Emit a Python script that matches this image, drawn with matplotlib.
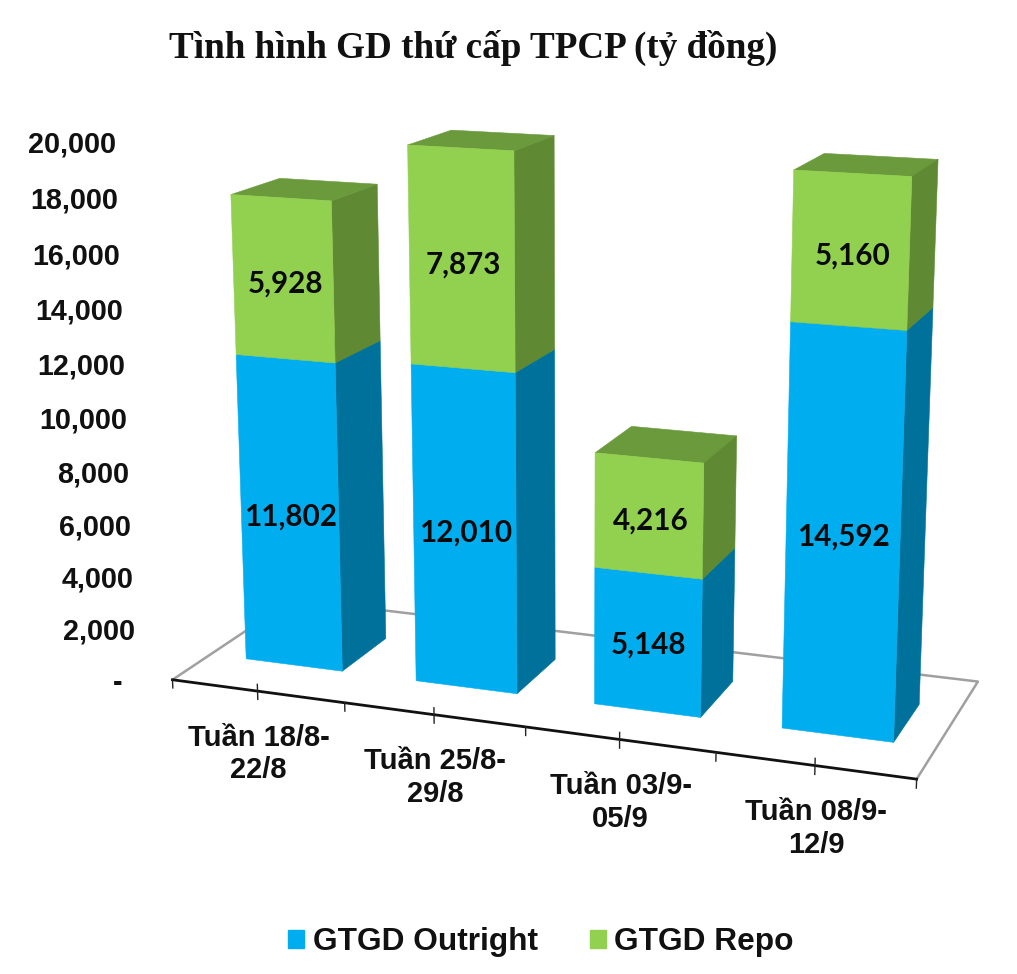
import numpy as np
import matplotlib
matplotlib.use('Agg')
import matplotlib.pyplot as plt
from mpl_toolkits.mplot3d import proj3d
from matplotlib.patches import Patch

title = 'Tình hình GD thứ cấp TPCP (tỷ đồng)'
categories = ['Tuần 18/8-\n22/8', 'Tuần 25/8-\n29/8', 'Tuần 03/9-\n05/9', 'Tuần 08/9-\n12/9']
outright = [11802, 12010, 5148, 14592]
repo = [5928, 7873, 4216, 5160]
value_ticks = [0, 2000, 4000, 6000, 8000, 10000, 12000, 14000, 16000, 18000, 20000]
series_names = ['GTGD Outright', 'GTGD Repo']

W, H = 1017, 974
BLUE, BLUE_SIDE = '#00AEEF', '#00719B'
GREEN, GREEN_SIDE, GREEN_TOP = '#92D050', '#5F8A33', '#6A9A3C'
NONE = (0, 0, 0, 0)
SANS = 'Liberation Sans'

# camera and box
ELEV, AZIM, FOCAL = 14.311, -69.869, 0.4990
AY, AZ = 0.3592, 0.7145
CX, CY, S = 574.82, 418.26, 5227.43
BAR_W, D0, D1 = 0.5714, 0.2989, 0.6922

fig = plt.figure(figsize=(W/100, H/100), dpi=100)
ax = fig.add_axes([0, 0, 1, 1], projection='3d')
ax.computed_zorder = False
ax.set_autoscale_on(False)
ax.set_proj_type('persp', focal_length=FOCAL)
ax.view_init(elev=ELEV, azim=AZIM, roll=0)
ax.set_box_aspect((1, AY, AZ))
ax.set_xlim(0, 4, view_margin=0)
ax.set_ylim(0, 1, view_margin=0)
ax.set_zlim(0, 20000, view_margin=0)
ax.set_axis_off()
x0, x1, y0, y1 = ax.viewLim.x0, ax.viewLim.x1, ax.viewLim.y0, ax.viewLim.y1
ax.set_position([(CX+S*x0)/W, (H-CY+S*y0)/H, S*(x1-x0)/W, S*(y1-y0)/H])
M = ax.get_proj()

def label(x, y, z, s, dx=0, dy=0, **kw):
    xd, yd, _ = proj3d.proj_transform(x, y, z, M)
    ax.annotate(s, xy=(xd, yd), xytext=(dx, dy), textcoords='offset pixels',
                annotation_clip=False, zorder=10, **kw)

# floor
GRAY = '#A0A0A0'
ax.plot([0, 0, 4, 4], [0, 1, 1, 0], [0, 0, 0, 0], color=GRAY, lw=1.8, zorder=1)
ax.plot([0, 4], [0, 0], [0, 0], color='#111111', lw=2.0, zorder=1.5)
for k in np.arange(0, 4.01, 0.5):
    mid = (k % 1) != 0
    ax.plot([k, k], [0, 0], [-320, 260 if mid else 0], color='#222222', lw=1.0, zorder=1.5)

# bars
for i in range(4):
    left = i + .5 - BAR_W/2
    ax.bar3d(left, D0, 0, BAR_W, D1-D0, outright[i], shade=False, zorder=2, linewidth=0.4,
             color=[NONE, BLUE_SIDE, BLUE, NONE, NONE, BLUE_SIDE], edgecolor=[NONE, NONE, BLUE, NONE, NONE, BLUE_SIDE])
    ax.bar3d(left, D0, outright[i], BAR_W, D1-D0, repo[i], shade=False, zorder=3, linewidth=0.4,
             color=[NONE, GREEN_TOP, GREEN, NONE, NONE, GREEN_SIDE], edgecolor=[NONE, GREEN_TOP, GREEN, NONE, NONE, GREEN_SIDE])
    label(i+.5, D0, outright[i]/2, f'{outright[i]:,}', dx=1, dy=-2, ha='center', va='center', family='Lato', weight='bold', fontsize=21.3, color='#0A0A0A')
    label(i+.5, D0, outright[i]+repo[i]/2, f'{repo[i]:,}', dx=2, dy=-5, ha='center', va='center', family='Lato', weight='bold', fontsize=21.3, color='#0A0A0A')
    label(i+.5, 0, 0, categories[i], dx=1, dy=-63, ha='center', va='center', family=SANS, weight='bold', fontsize=21, linespacing=1.2, color='#111111')

for v in value_ticks:
    label(0, 0, v, f'{v:,}' if v else '-', dx=-35 if v else -50, dy=-3, ha='right', va='center', family=SANS, weight='bold', fontsize=20.7, color='#111111')

ax.set_xlim(0, 4, view_margin=0)
ax.set_ylim(0, 1, view_margin=0)
ax.set_zlim(0, 20000, view_margin=0)

fig.text(473/W, 1-48/H, title, ha='center', va='center', family='Liberation Serif', weight='bold', fontsize=26.7, color='#111111')
handles = [Patch(color=BLUE, label=series_names[0]), Patch(color=GREEN, label=series_names[1])]
fig.legend(handles=handles, loc='center', bbox_to_anchor=(541/W, 1-942/H), ncol=2, frameon=False,
           prop={'family': SANS, 'weight': 'bold', 'size': 22.8}, handlelength=0.5, handleheight=0.5,
           handletextpad=0.28, columnspacing=1.64, borderpad=0, borderaxespad=0, labelcolor='#111111')
fig.savefig('out.png', dpi=100)
